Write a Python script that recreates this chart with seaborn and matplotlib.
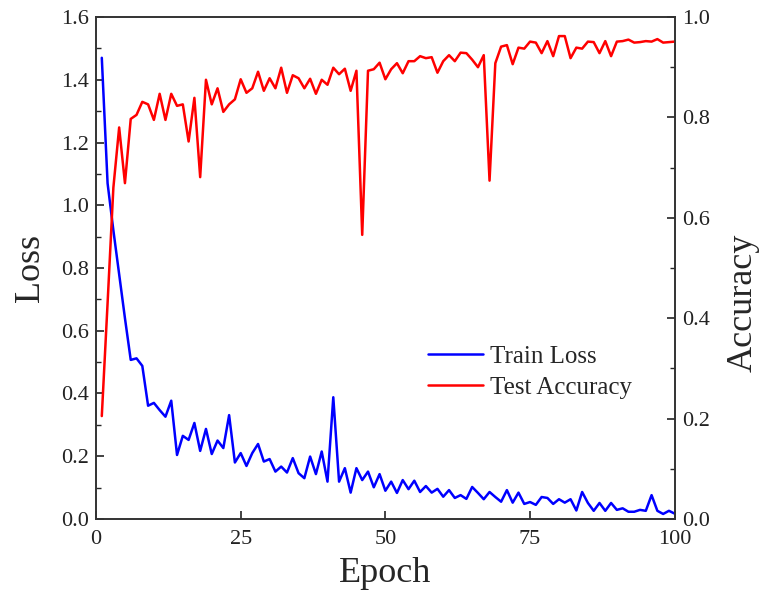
import numpy as np
import pandas as pd
import matplotlib
matplotlib.use("Agg")
import matplotlib.pyplot as plt
from matplotlib.ticker import MultipleLocator, FormatStrFormatter
import seaborn as sns

# values, epochs 1..100
epochs = list(range(1, 101))

train_loss = [
    1.47, 1.07, 0.92, 0.78, 0.64, 0.507, 0.512, 0.488, 0.361, 0.37,
    0.347, 0.326, 0.377, 0.204, 0.265, 0.252, 0.306, 0.217, 0.287, 0.207,
    0.25, 0.226, 0.331, 0.18, 0.21, 0.169, 0.21, 0.239, 0.183, 0.191,
    0.151, 0.167, 0.148, 0.194, 0.146, 0.13, 0.199, 0.143, 0.215, 0.119,
    0.388, 0.119, 0.162, 0.084, 0.162, 0.124, 0.151, 0.101, 0.143, 0.09,
    0.119, 0.083, 0.124, 0.095, 0.122, 0.086, 0.105, 0.084, 0.096, 0.071,
    0.092, 0.067, 0.076, 0.064, 0.102, 0.083, 0.063, 0.086, 0.07, 0.055,
    0.092, 0.052, 0.084, 0.048, 0.054, 0.045, 0.07, 0.067, 0.048, 0.063,
    0.052, 0.063, 0.027, 0.086, 0.051, 0.026, 0.051, 0.026, 0.051, 0.029,
    0.034, 0.023, 0.023, 0.029, 0.026, 0.076, 0.026, 0.016, 0.026, 0.017,
]

test_acc = [
    0.205, 0.43, 0.66, 0.78, 0.669, 0.797, 0.805, 0.831, 0.826, 0.795,
    0.847, 0.795, 0.847, 0.823, 0.826, 0.752, 0.839, 0.681, 0.875, 0.826,
    0.858, 0.811, 0.826, 0.836, 0.876, 0.849, 0.858, 0.891, 0.853, 0.878,
    0.858, 0.899, 0.849, 0.884, 0.878, 0.858, 0.877, 0.847, 0.875, 0.865,
    0.899, 0.886, 0.897, 0.853, 0.893, 0.566, 0.893, 0.896, 0.909, 0.876,
    0.896, 0.908, 0.888, 0.912, 0.912, 0.922, 0.918, 0.92, 0.889, 0.912,
    0.924, 0.912, 0.929, 0.928, 0.915, 0.9, 0.924, 0.674, 0.908, 0.941,
    0.944, 0.906, 0.939, 0.937, 0.951, 0.949, 0.928, 0.952, 0.922, 0.962,
    0.962, 0.918, 0.939, 0.937, 0.951, 0.95, 0.928, 0.952, 0.922, 0.951,
    0.952, 0.955, 0.949, 0.95, 0.952, 0.951, 0.956, 0.949, 0.95, 0.951,
]

df = pd.DataFrame({"epoch": epochs, "loss": train_loss, "acc": test_acc})

sns.set_style("ticks")
plt.rcParams["font.family"] = ["Liberation Serif", "DejaVu Serif"]

fig = plt.figure(figsize=(7.65, 5.97), dpi=100)
ax = fig.add_axes([0.1255, 0.1307, 0.7565, 0.8408])
ax2 = ax.twinx()

sns.lineplot(data=df, x="epoch", y="loss", ax=ax, color="#0000ff", lw=1.8, label="Train Loss", legend=False)
sns.lineplot(data=df, x="epoch", y="acc", ax=ax2, color="#ff0000", lw=1.8, label="Test Accuracy", legend=False)

ax.set_xlim(0, 100)
ax.set_ylim(0, 1.6)
ax2.set_ylim(0, 1.0)
ax.xaxis.set_major_locator(MultipleLocator(25))
ax.yaxis.set_major_locator(MultipleLocator(0.2))
ax.yaxis.set_minor_locator(MultipleLocator(0.1))
ax2.yaxis.set_major_locator(MultipleLocator(0.2))
ax2.yaxis.set_minor_locator(MultipleLocator(0.1))
ax.yaxis.set_major_formatter(FormatStrFormatter("%.1f"))
ax2.yaxis.set_major_formatter(FormatStrFormatter("%.1f"))

for a in (ax, ax2):
    a.tick_params(which="major", direction="in", length=6, width=1.2, labelsize=16, colors="#222222", pad=5)
    a.tick_params(which="minor", direction="in", length=3.5, width=1.0)
    for s in a.spines.values():
        s.set_linewidth(1.2)
        s.set_color("#333333")
ax.tick_params(axis="x", pad=8)

ax.set_xlabel("Epoch", fontsize=26, labelpad=6)
ax.set_ylabel("Loss", fontsize=26, labelpad=10)
ax2.set_ylabel("Accuracy", fontsize=26, labelpad=12)
ax2.yaxis.label.set_y(0.43)

h1, l1 = ax.get_legend_handles_labels()
h2, l2 = ax2.get_legend_handles_labels()
ax2.legend(h1 + h2, l1 + l2, loc="center", bbox_to_anchor=(0.75, 0.293),
           frameon=False, fontsize=18, handlelength=2.2, handletextpad=0.3,
           labelspacing=0.35)

fig.savefig("out.png", dpi=100)
